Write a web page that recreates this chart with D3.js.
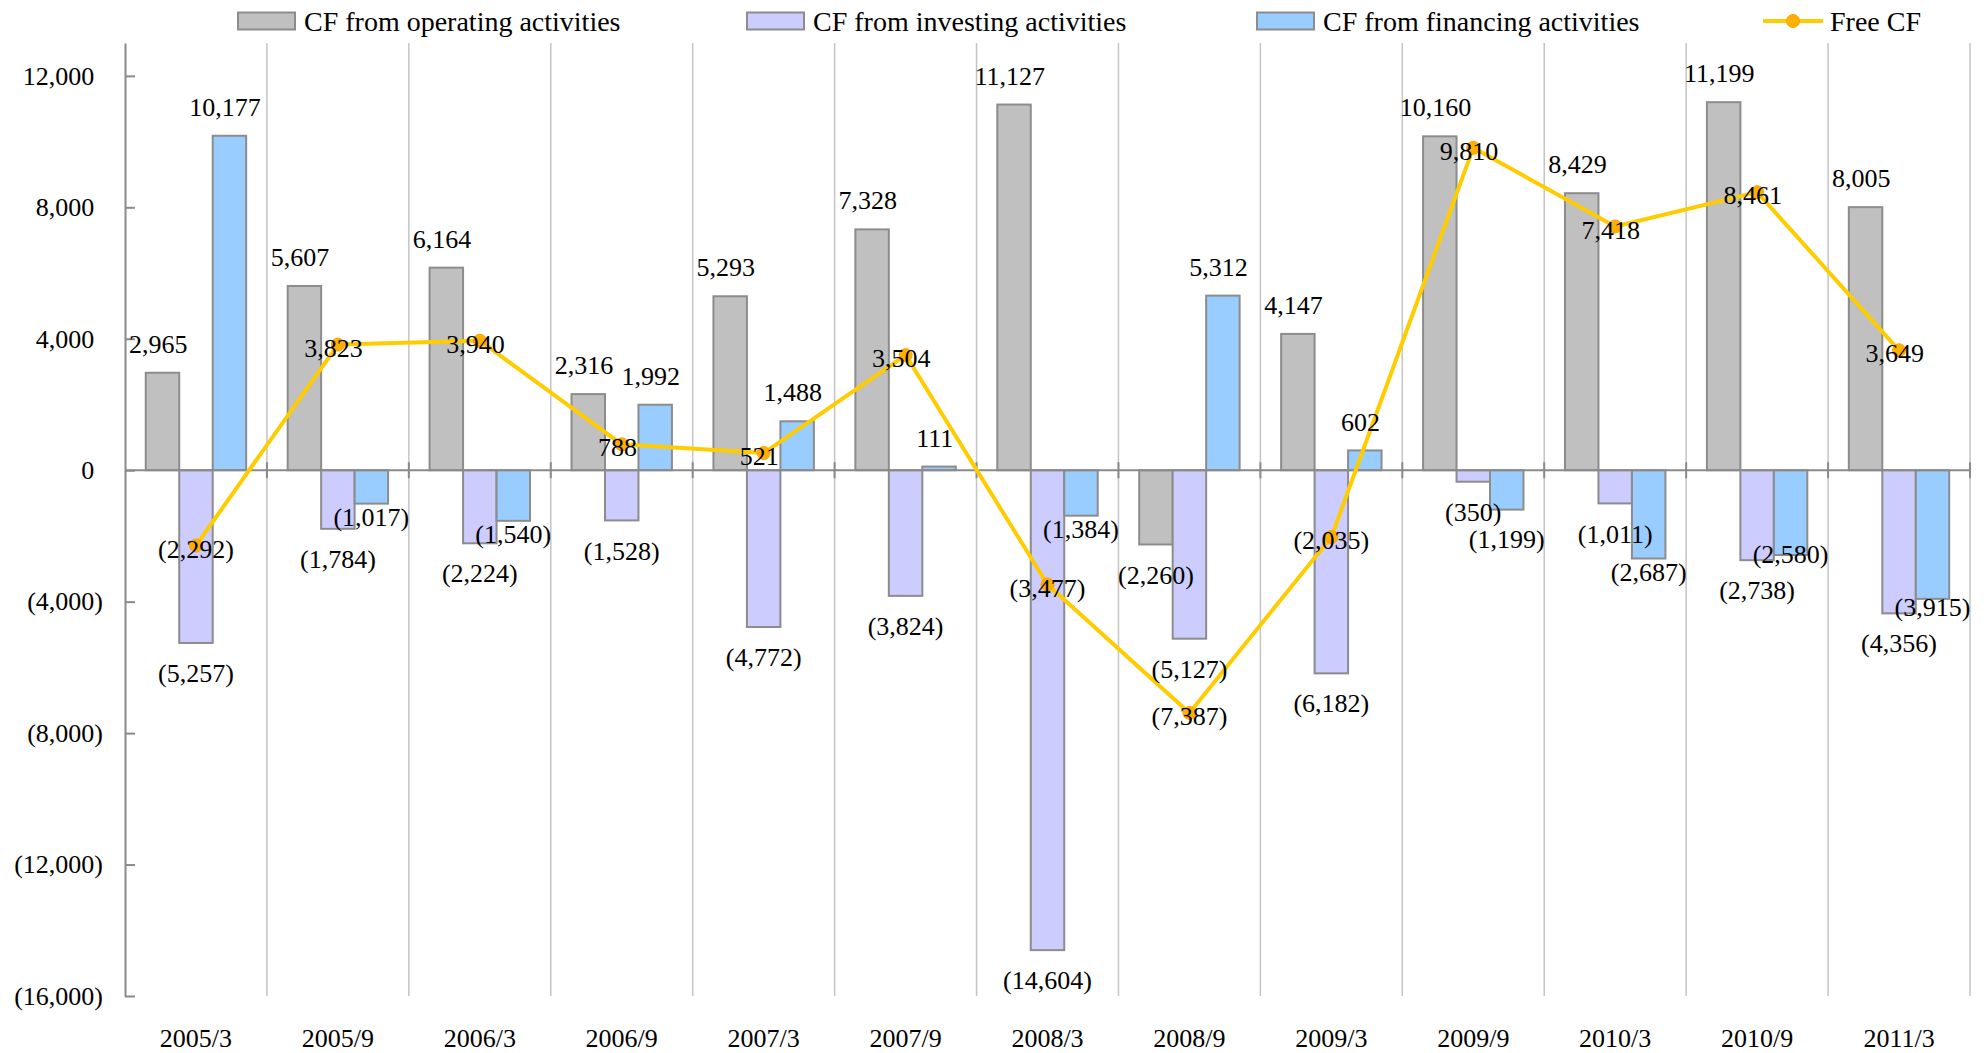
<!DOCTYPE html>
<html>
<head>
<meta charset="utf-8">
<script src="https://cdn.jsdelivr.net/npm/d3@7"></script>
<style>
  html, body { margin: 0; padding: 0; background: #fff; }
  svg { display: block; font-family: "Liberation Serif", "Times New Roman", serif; }
</style>
</head>
<body>
<svg id="chart" width="1984" height="1053"></svg>
<script>
const categories = ["2005/3","2005/9","2006/3","2006/9","2007/3","2007/9","2008/3","2008/9","2009/3","2009/9","2010/3","2010/9","2011/3"];
const operating = [2965, 5607, 6164, 2316, 5293, 7328, 11127, -2260, 4147, 10160, 8429, 11199, 8005];
const investing = [-5257, -1784, -2224, -1528, -4772, -3824, -14604, -5127, -6182, -350, -1011, -2738, -4356];
const financing = [10177, -1017, -1540, 1992, 1488, 111, -1384, 5312, 602, -1199, -2687, -2580, -3915];
const freeCF = [-2292, 3823, 3940, 788, 521, 3504, -3477, -7387, -2035, 9810, 7418, 8461, 3649];
const yTicks = [12000, 8000, 4000, 0, -4000, -8000, -12000, -16000];
const seriesNames = ["CF from operating activities", "CF from investing activities", "CF from financing activities", "Free CF"];

const W = 1984, H = 1053;
const plot = { left: 125, right: 1970, top: 43, bottom: 996 };
const FS = 26;      // numbers / axis labels
const LFS = 28;     // legend

const barSeries = [
  { key: "op", name: seriesNames[0], values: operating, fill: "#c0c0c0", gapPos: 29, gapNeg: 30 },
  { key: "inv", name: seriesNames[1], values: investing, fill: "#ccccff", gapPos: 29, gapNeg: 30 },
  { key: "fin", name: seriesNames[2], values: financing, fill: "#99ccff", gapPos: 29, gapNeg: 13 }
];

const svg = d3.select("#chart");

const x = d3.scaleBand().domain(categories).range([plot.left, plot.right]).padding(0);
const xs = d3.scaleBand().domain(barSeries.map(s => s.key)).range([0, x.bandwidth()]).paddingInner(0).paddingOuter(0.62);
const y = d3.scaleLinear().domain([-16000, 13000]).range([plot.bottom, plot.top]);

const fmt = d3.format(",");
function addLabelText(sel, v) {
  if (v < 0) {
    sel.text("(" + fmt(-v) + ")");
  } else {
    sel.text(fmt(v));
    sel.append("tspan").attr("fill-opacity", 0).text(")");
  }
}

// vertical category gridlines
svg.append("g").selectAll("line").data(categories).join("line")
  .attr("x1", d => x(d) + x.bandwidth()).attr("x2", d => x(d) + x.bandwidth())
  .attr("y1", y(13000)).attr("y2", y(-16000))
  .attr("stroke", "#c4c4c4").attr("stroke-width", 1.5);

// bars
barSeries.forEach(s => {
  svg.append("g").selectAll("rect").data(s.values).join("rect")
    .attr("x", (d, i) => x(categories[i]) + xs(s.key))
    .attr("width", xs.bandwidth())
    .attr("y", d => y(Math.max(0, d)))
    .attr("height", d => Math.abs(y(d) - y(0)))
    .attr("fill", s.fill)
    .attr("stroke", "#8c8c8c").attr("stroke-width", 2);
});

// y axis
const yAxis = d3.axisLeft(y).tickValues(yTicks).tickSizeInner(-10).tickSizeOuter(0).tickPadding(22).tickFormat(() => "");
const gy = svg.append("g").attr("transform", `translate(${plot.left},0)`).call(yAxis);
gy.select(".domain").attr("stroke", "#8a8a8a").attr("stroke-width", 2);
gy.selectAll(".tick line").attr("stroke", "#8a8a8a").attr("stroke-width", 2);
gy.selectAll(".tick text").each(function(d) {
  const t = d3.select(this).attr("font-size", FS).attr("font-family", "Liberation Serif").attr("fill", "#000");
  addLabelText(t, d);
});

// zero line (category axis)
svg.append("line")
  .attr("x1", plot.left).attr("x2", plot.right)
  .attr("y1", y(0)).attr("y2", y(0))
  .attr("stroke", "#8a8a8a").attr("stroke-width", 2);
svg.append("g").selectAll("line").data(categories).join("line")
  .attr("x1", d => x(d) + x.bandwidth()).attr("x2", d => x(d) + x.bandwidth())
  .attr("y1", y(0) - 8).attr("y2", y(0) + 8)
  .attr("stroke", "#8a8a8a").attr("stroke-width", 2);

// x axis labels
const xAxis = d3.axisBottom(x).tickSize(0).tickPadding(33);
const gx = svg.append("g").attr("transform", `translate(0,${plot.bottom})`).call(xAxis);
gx.select(".domain").remove();
gx.selectAll(".tick text").attr("font-size", FS).attr("font-family", "Liberation Serif").attr("fill", "#000");

// Free CF line
const cx = (d, i) => x(categories[i]) + x.bandwidth() / 2;
const line = d3.line().x(cx).y(d => y(d));
svg.append("path").datum(freeCF)
  .attr("d", line).attr("fill", "none")
  .attr("stroke", "#ffcc00").attr("stroke-width", 4).attr("stroke-linejoin", "round");
svg.append("g").selectAll("circle").data(freeCF).join("circle")
  .attr("cx", cx).attr("cy", d => y(d)).attr("r", 6.5)
  .attr("fill", "#ffb000").attr("stroke", "#ffa000").attr("stroke-width", 1);

// bar label positions (outside end), with simple collision avoidance
const labelPos = {};
barSeries.forEach(s => {
  labelPos[s.key] = s.values.map((d, i) => ({
    x: x(categories[i]) + xs(s.key) + xs.bandwidth() / 2,
    y: d >= 0 ? y(d) - s.gapPos : y(d) + s.gapNeg,
    v: d
  }));
});
// financing negative labels vs investing labels in the same category
labelPos.fin.forEach((p, i) => {
  const q = labelPos.inv[i];
  if (p.v < 0 && q.v < 0 && Math.abs(p.y - q.y) < 34) {
    p.y = (q.y > p.y) ? q.y - 36 : q.y + 27;
  }
});

barSeries.forEach(s => {
  svg.append("g").selectAll("text").data(labelPos[s.key]).join("text")
    .attr("x", p => p.x)
    .attr("y", p => p.y)
    .attr("dy", "0.35em")
    .attr("text-anchor", "middle")
    .attr("font-size", FS).attr("fill", "#000")
    .each(function(p) { addLabelText(d3.select(this), p.v); });
});

// Free CF labels (centered on points)
svg.append("g").selectAll("text").data(freeCF).join("text")
  .attr("x", cx).attr("y", d => y(d) + 3)
  .attr("dy", "0.35em")
  .attr("text-anchor", "middle")
  .attr("font-size", FS).attr("fill", "#000")
  .each(function(d) { addLabelText(d3.select(this), d); });

// legend
const legendY = 21;
const legendItems = [
  { name: seriesNames[0], fill: "#c0c0c0", x: 238, type: "rect" },
  { name: seriesNames[1], fill: "#ccccff", x: 747, type: "rect" },
  { name: seriesNames[2], fill: "#99ccff", x: 1257, type: "rect" },
  { name: seriesNames[3], fill: "#ffcc00", x: 1763, type: "line" }
];
const lg = svg.append("g");
legendItems.forEach(it => {
  const g = lg.append("g").attr("transform", `translate(${it.x},${legendY})`);
  if (it.type === "rect") {
    g.append("rect").attr("x", 0).attr("y", -8.5).attr("width", 57).attr("height", 17)
      .attr("fill", it.fill).attr("stroke", "#8c8c8c").attr("stroke-width", 2);
  } else {
    g.append("line").attr("x1", 0).attr("x2", 60).attr("y1", 0).attr("y2", 0)
      .attr("stroke", it.fill).attr("stroke-width", 4);
    g.append("circle").attr("cx", 30).attr("cy", 0).attr("r", 6.5)
      .attr("fill", "#ffb000").attr("stroke", "#ffa000").attr("stroke-width", 1);
  }
  g.append("text").attr("x", it.type === "rect" ? 66 : 67).attr("y", 0).attr("dy", "0.35em")
    .attr("font-size", LFS).attr("fill", "#000").text(it.name);
});
</script>
</body>
</html>
